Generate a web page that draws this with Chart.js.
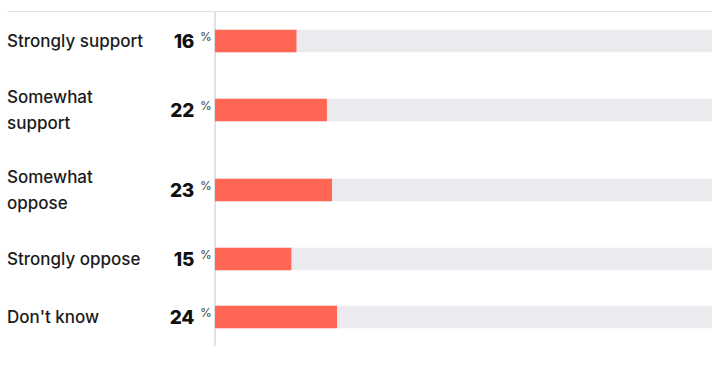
<!DOCTYPE html>
<html>
<head>
<meta charset="utf-8">
<script src="https://cdn.jsdelivr.net/npm/chart.js@4/dist/chart.umd.min.js"></script>
<style>
  html, body { margin: 0; padding: 0; background: #fff; }
  body { width: 712px; height: 365px; overflow: hidden; position: relative; font-family: Inter, "Noto Sans", sans-serif; }
  #poll { position: absolute; left: 7px; top: 11px; right: 0; border-top: 1px solid #e4e4e6; }
  .row { display: flex; align-items: center; }
  .label { width: 150px; font-size: 17px; font-weight: 500; line-height: 26px; color: #1b1b1b; margin-top: -1px; }
  .value { width: 37px; text-align: right; font-size: 19px; font-weight: 800; color: #111; letter-spacing: -0.3px; }
  .pct { width: 19px; font-size: 12px; color: #444; padding-left: 6px; box-sizing: border-box; margin-top: -10px; }
  .bar canvas { display: block; }
</style>
</head>
<body>
<div id="poll"></div>
<script>
// Answer categories (multi-line where the label wraps) and share of respondents in %
const categories = [
    ['Strongly support'],
    ['Somewhat', 'support'],
    ['Somewhat', 'oppose'],
    ['Strongly oppose'],
    ["Don't know"]
];
const values = [16, 22, 23, 15, 24];
const trackValue = 100;

const BAR_COLOR = '#ff6653';
const TRACK_COLOR = '#ebebef';
const CANVAS_WIDTH = 499;

const poll = document.getElementById('poll');

categories.forEach((lines, i) => {
    const rowHeight = lines.length > 1 ? 80 : 58;

    const row = document.createElement('div');
    row.className = 'row';
    row.style.height = rowHeight + 'px';

    const label = document.createElement('div');
    label.className = 'label';
    label.innerHTML = lines.join('<br>');

    const value = document.createElement('div');
    value.className = 'value';
    value.textContent = values[i];

    const pct = document.createElement('div');
    pct.className = 'pct';
    pct.textContent = '%';

    const barBox = document.createElement('div');
    barBox.className = 'bar';
    const canvas = document.createElement('canvas');
    canvas.width = CANVAS_WIDTH;
    canvas.height = rowHeight;
    barBox.appendChild(canvas);

    row.append(label, value, pct, barBox);
    poll.appendChild(row);

    new Chart(canvas.getContext('2d'), {
        type: 'bar',
        data: {
            labels: [lines.join(' ')],
            datasets: [
                {
                    data: [values[i]],
                    backgroundColor: BAR_COLOR,
                    barThickness: 22,
                    grouped: false,
                    order: 1
                },
                {
                    data: [trackValue],
                    backgroundColor: TRACK_COLOR,
                    barThickness: 22,
                    grouped: false,
                    order: 2
                }
            ]
        },
        options: {
            indexAxis: 'y',
            responsive: false,
            animation: false,
            layout: { padding: { left: 2, right: 0, top: 0, bottom: 0 } },
            plugins: {
                legend: { display: false },
                tooltip: { enabled: false }
            },
            scales: {
                x: {
                    display: false,
                    min: 0,
                    max: 98
                },
                y: {
                    grid: { display: false, drawTicks: false },
                    ticks: { display: false },
                    border: { display: true, color: '#e2e2e5', width: 2 }
                }
            }
        }
    });
});
</script>
</body>
</html>
